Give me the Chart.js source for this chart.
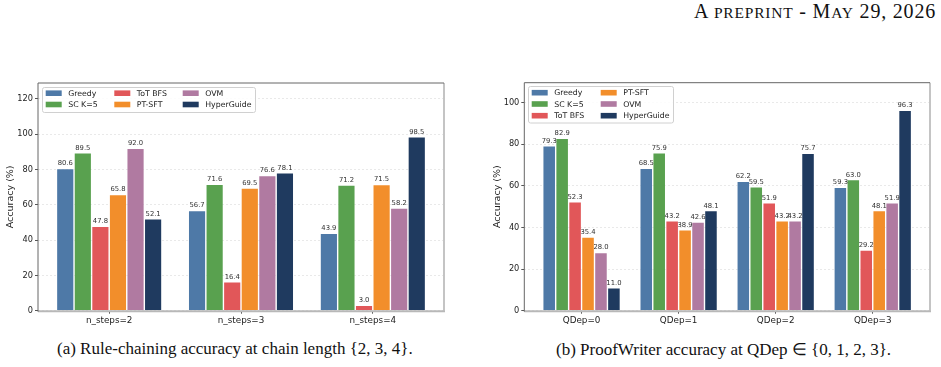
<!DOCTYPE html>
<html><head><meta charset="utf-8">
<script src="https://cdn.jsdelivr.net/npm/chart.js@4/dist/chart.umd.min.js"></script>
<style>
html,body{margin:0;padding:0;background:#fff;width:941px;height:367px;overflow:hidden;}
.abs{position:absolute;}
#hdr{left:0;top:0px;width:936px;text-align:right;font-family:"Liberation Serif","DejaVu Serif",serif;font-size:20px;letter-spacing:0.8px;color:#111;white-space:nowrap;}
#hdr .sc{font-size:15.5px;}
.cap{font-family:"Liberation Serif",serif;font-size:17px;color:#111;white-space:nowrap;top:339px;}
</style></head><body>
<div id="hdr" class="abs">A <span class="sc">PREPRINT</span> - M<span class="sc">AY</span> 29, 2026</div>
<canvas id="c1" class="abs" width="450" height="260" style="left:0;top:75px;width:450px;height:260px"></canvas>
<canvas id="c2" class="abs" width="461" height="260" style="left:480px;top:75px;width:461px;height:260px"></canvas>
<div class="abs cap" style="left:57px">(a) Rule-chaining accuracy at chain length {2, 3, 4}.</div>
<div class="abs cap" style="left:556px">(b) ProofWriter accuracy at QDep ∈ {0, 1, 2, 3}.</div>
<script>
const seriesNames = ['Greedy', 'SC K=5', 'ToT BFS', 'PT-SFT', 'OVM', 'HyperGuide'];
const seriesColors = ['#4e79a7', '#59a14f', '#e15759', '#f28e2b', '#b07aa1', '#1f3a5f'];

const stepCategories = ['n_steps=2', 'n_steps=3', 'n_steps=4'];
const stepGreedy     = [80.6, 56.7, 43.9];
const stepSC         = [89.5, 71.6, 71.2];
const stepToT        = [47.8, 16.4, 3.0];
const stepPTSFT      = [65.8, 69.5, 71.5];
const stepOVM        = [92.0, 76.6, 58.2];
const stepHyperGuide = [52.1, 78.1, 98.5];
const stepYTicks     = [0, 20, 40, 60, 80, 100, 120];

const qdepCategories = ['QDep=0', 'QDep=1', 'QDep=2', 'QDep=3'];
const qdepGreedy     = [79.3, 68.5, 62.2, 59.3];
const qdepSC         = [82.9, 75.9, 59.5, 63.0];
const qdepToT        = [52.3, 43.2, 51.9, 29.2];
const qdepPTSFT      = [35.4, 38.9, 43.2, 48.1];
const qdepOVM        = [28.0, 42.6, 43.2, 51.9];
const qdepHyperGuide = [11.0, 48.1, 75.7, 96.3];
const qdepYTicks     = [0, 20, 40, 60, 80, 100];

const FONT = '"DejaVu Sans", sans-serif';

function makeChart(id, categories, seriesValues, yTicks, yMax, geom, legend) {
  const n = categories.length;
  const datasets = seriesValues.map((vals, k) => ({
    label: seriesNames[k],
    data: vals.map((v, i) => ({x: i, y: v})),
    backgroundColor: seriesColors[k],
    borderColor: 'rgba(255,255,255,0.55)',
    borderWidth: 0.7,
    borderSkipped: 'bottom',
    categoryPercentage: 0.8,
    barPercentage: 1.0
  }));
  const margin = (n - 1 + 0.8) * 0.05 + 0.4;
  const labelPlugin = {
    id: 'vals',
    afterDatasetsDraw(chart) {
      const ctx = chart.ctx;
      ctx.save();
      ctx.font = '6.8px ' + FONT;
      ctx.fillStyle = '#333';
      ctx.textAlign = 'center';
      ctx.textBaseline = 'bottom';
      chart.data.datasets.forEach((ds, di) => {
        chart.getDatasetMeta(di).data.forEach((el, i) => {
          ctx.fillText(ds.data[i].y.toFixed(1), el.x, el.y - 1.5);
        });
      });
      ctx.restore();
    }
  };
  const framePlugin = {
    id: 'frame',
    afterDraw(chart) {
      const a = chart.chartArea, ctx = chart.ctx;
      ctx.save();
      ctx.lineWidth = 2; ctx.strokeStyle = '#c4c4c4';
      ctx.beginPath(); ctx.moveTo(a.right, a.top); ctx.lineTo(a.right, a.bottom); ctx.stroke();
      ctx.strokeStyle = '#b8b8b8';
      ctx.beginPath(); ctx.moveTo(a.left, a.bottom + 0.5); ctx.lineTo(a.right + 1, a.bottom + 0.5); ctx.stroke();
      ctx.lineWidth = 1; ctx.strokeStyle = '#666';
      ctx.beginPath(); ctx.moveTo(a.left, a.top); ctx.lineTo(a.right, a.top); ctx.stroke();
      ctx.beginPath(); ctx.moveTo(a.left, a.top); ctx.lineTo(a.left, a.bottom + 1); ctx.stroke();
      ctx.restore();
    }
  };
  const legendPlugin = {
    id: 'legbox',
    afterDraw(chart) {
      const a = chart.chartArea, ctx = chart.ctx;
      const bx = a.left + legend.dx, by = a.top + legend.dy;
      ctx.save();
      ctx.fillStyle = 'rgba(255,255,255,0.85)';
      ctx.strokeStyle = '#d0d0d0';
      ctx.lineWidth = 1;
      ctx.beginPath();
      ctx.roundRect(bx + 0.5, by + 0.5, legend.w, legend.h, 2);
      ctx.fill(); ctx.stroke();
      ctx.font = '7.8px ' + FONT;
      ctx.textBaseline = 'middle';
      ctx.textAlign = 'left';
      chart.data.datasets.forEach((ds, k) => {
        const col = Math.floor(k / legend.rows), row = k % legend.rows;
        const sx = bx + legend.colX[col], sy = by + legend.rowY[row];
        ctx.fillStyle = ds.backgroundColor;
        ctx.fillRect(sx, sy - 2.8, 16, 5.6);
        ctx.fillStyle = '#222';
        ctx.fillText(ds.label, sx + 22.5, sy + 0.5);
      });
      ctx.restore();
    }
  };
  return new Chart(document.getElementById(id), {
    type: 'bar',
    data: {datasets},
    plugins: [labelPlugin, framePlugin, legendPlugin],
    options: {
      responsive: false, animation: false, devicePixelRatio: 1,
      layout: {padding: {top: geom.top, right: geom.right, left: 0, bottom: 0}},
      plugins: {legend: {display: false}, tooltip: {enabled: false}},
      scales: {
        x: {
          type: 'linear', offset: false, min: -margin, max: n - 1 + margin,
          afterBuildTicks: s => { s.ticks = categories.map((c, i) => ({value: i})); },
          afterFit: s => { s.height = geom.xh; },
          ticks: {callback: v => categories[v], font: {family: FONT, size: 8.8}, color: '#222', padding: 2, maxRotation: 0},
          grid: {offset: false, drawOnChartArea: false, drawTicks: true, tickLength: 3, tickColor: '#555', color: '#555'},
          border: {display: false}
        },
        y: {
          min: 0, max: yMax,
          afterBuildTicks: s => { s.ticks = yTicks.map(v => ({value: v})); },
          afterFit: s => { s.width = geom.yw; },
          ticks: {font: {family: FONT, size: 8.2}, color: '#222', padding: 2},
          grid: {color: '#e4e4e4', lineWidth: 0.8, tickLength: 3, tickColor: '#555', tickWidth: 1},
          border: {display: false, dash: [2, 2]},
          title: {display: true, text: 'Accuracy (%)', font: {family: FONT, size: 9.5}, color: '#222', padding: {top: geom.tp, bottom: 0}}
        }
      }
    }
  });
}

makeChart('c1', stepCategories,
  [stepGreedy, stepSC, stepToT, stepPTSFT, stepOVM, stepHyperGuide],
  stepYTicks, 129,
  {top: 8, right: 6, xh: 24.3, yw: 38, tp: 5},
  {dx: 4, dy: 4, w: 213, h: 25, rows: 2, colX: [3.7, 72.3, 140.7], rowY: [6.2, 17.5]});

makeChart('c2', qdepCategories,
  [qdepGreedy, qdepSC, qdepToT, qdepPTSFT, qdepOVM, qdepHyperGuide],
  qdepYTicks, 109.6,
  {top: 7.7, right: 11, xh: 24.3, yw: 44.3, tp: 12},
  {dx: 3.7, dy: 3.3, w: 145, h: 36.5, rows: 3, colX: [3.7, 72.7], rowY: [6.7, 18, 29.7]});
</script>
</body></html>
